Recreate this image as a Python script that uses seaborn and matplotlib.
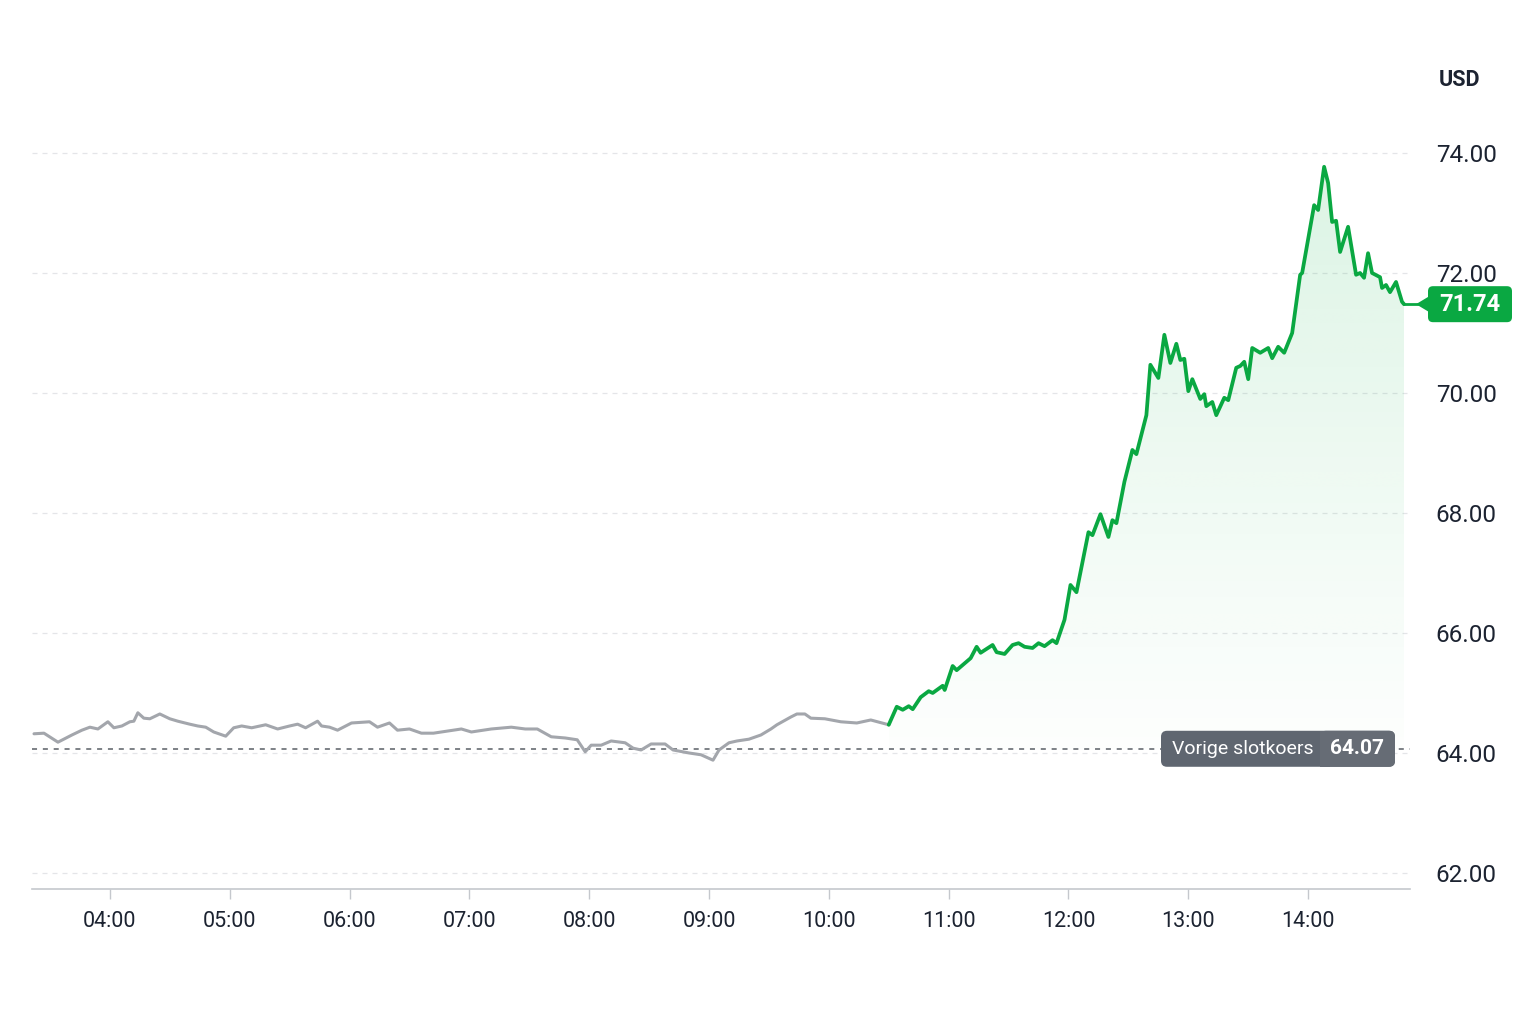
import numpy as np
import pandas as pd
import matplotlib.pyplot as plt
import matplotlib.dates as mdates
from matplotlib.patches import FancyBboxPatch, Polygon
from matplotlib.transforms import IdentityTransform
from matplotlib.colors import to_rgb
import seaborn as sns

# intraday prices
times = ["03:22", "03:27", "03:34", "03:41", "03:46", "03:50", "03:54", "03:59", "04:02", "04:06",
         "04:10", "04:12", "04:14", "04:17", "04:20", "04:25", "04:30", "04:34", "04:40", "04:44",
         "04:48", "04:52", "04:58", "05:02", "05:06", "05:11", "05:18", "05:24", "05:30", "05:34",
         "05:38", "05:44", "05:46", "05:50", "05:54", "06:01", "06:10", "06:14", "06:20", "06:24",
         "06:30", "06:36", "06:42", "06:50", "06:56", "07:01", "07:11", "07:21", "07:28", "07:34",
         "07:41", "07:48", "07:54", "07:58", "08:01", "08:06", "08:11", "08:18", "08:22", "08:26",
         "08:31", "08:38", "08:42", "08:50", "08:56", "09:02", "09:05", "09:10", "09:14", "09:20",
         "09:26", "09:31", "09:34", "09:41", "09:44", "09:48", "09:51", "09:58", "10:06", "10:14",
         "10:21", "10:30",
         "10:34", "10:37", "10:40", "10:42", "10:46", "10:50", "10:52", "10:57", "10:58", "11:02",
         "11:04", "11:11", "11:14", "11:16", "11:22", "11:24", "11:28", "11:32", "11:35", "11:38",
         "11:42", "11:45", "11:48", "11:52", "11:54", "11:58", "12:01", "12:04", "12:10", "12:12",
         "12:16", "12:20", "12:22", "12:24", "12:28", "12:32", "12:34", "12:39", "12:41", "12:45",
         "12:48", "12:51", "12:54", "12:56", "12:58", "13:00", "13:02", "13:06", "13:08", "13:09",
         "13:12", "13:14", "13:18", "13:20", "13:24", "13:26", "13:28", "13:30", "13:32", "13:36",
         "13:40", "13:42", "13:45", "13:48", "13:52", "13:56", "13:57", "14:03", "14:05", "14:08",
         "14:10", "14:12", "14:14", "14:16", "14:20", "14:24", "14:26", "14:28", "14:30", "14:32",
         "14:36", "14:37", "14:39", "14:41", "14:44", "14:47", "14:48"]
prices = [64.32, 64.33, 64.18, 64.30, 64.38, 64.43, 64.40, 64.52, 64.42, 64.45,
          64.52, 64.53, 64.67, 64.58, 64.57, 64.65, 64.57, 64.53, 64.48, 64.45,
          64.43, 64.35, 64.28, 64.42, 64.45, 64.42, 64.47, 64.40, 64.45, 64.48,
          64.42, 64.53, 64.45, 64.43, 64.38, 64.50, 64.52, 64.43, 64.50, 64.38,
          64.40, 64.33, 64.33, 64.37, 64.40, 64.35, 64.40, 64.43, 64.40, 64.40,
          64.27, 64.25, 64.22, 64.02, 64.13, 64.13, 64.20, 64.17, 64.08, 64.05,
          64.15, 64.15, 64.05, 64.00, 63.97, 63.88, 64.05, 64.17, 64.20, 64.23,
          64.30, 64.40, 64.47, 64.60, 64.65, 64.65, 64.58, 64.57, 64.52, 64.50,
          64.55, 64.47,
          64.77, 64.72, 64.78, 64.73, 64.93, 65.03, 65.00, 65.12, 65.05, 65.45,
          65.38, 65.58, 65.77, 65.67, 65.80, 65.68, 65.65, 65.80, 65.83, 65.77,
          65.75, 65.83, 65.78, 65.88, 65.83, 66.22, 66.80, 66.68, 67.68, 67.63,
          67.98, 67.60, 67.88, 67.83, 68.52, 69.05, 68.98, 69.63, 70.47, 70.25,
          70.97, 70.50, 70.82, 70.55, 70.57, 70.03, 70.23, 69.90, 69.98, 69.78,
          69.85, 69.63, 69.92, 69.88, 70.42, 70.45, 70.52, 70.23, 70.75, 70.67,
          70.75, 70.58, 70.77, 70.67, 71.00, 71.97, 72.00, 73.13, 73.05, 73.77,
          73.50, 72.85, 72.87, 72.35, 72.77, 71.97, 72.00, 71.92, 72.33, 72.00,
          71.93, 71.75, 71.80, 71.68, 71.85, 71.52, 71.48]

split_time = "10:30"      # grey before, green after
prev_close = 64.07
last_price = 71.74
y_ticks = [62, 64, 66, 68, 70, 72, 74]
x_ticks = ["04:00", "05:00", "06:00", "07:00", "08:00", "09:00", "10:00",
           "11:00", "12:00", "13:00", "14:00"]

GREEN = "#0aa842"
GREY_LINE = "#a3a6ac"
TEXT = "#1c2331"

sns.set_style("white")
plt.rcParams['font.family'] = ['Roboto', 'DejaVu Sans']

day = "2024-01-02 "
df = pd.DataFrame({"time": pd.to_datetime(day + pd.Series(times)), "price": prices})
split = pd.Timestamp(day + split_time)
grey = df[df.time <= split]
green = df[df.time >= split]

fig = plt.figure(figsize=(15.36, 10.24), dpi=100)
fig.patch.set_facecolor("white")
ax = fig.add_axes([32 / 1536, 1 - 889 / 1024, (1410 - 32) / 1536, (889 - 100) / 1024])

# gradient fill under the green part
xg = mdates.date2num(green.time)
verts = [(xg[0], prev_close)] + list(zip(xg, green.price)) + [(xg[-1], prev_close)]
poly = Polygon(verts, closed=True, fc="none", ec="none")
ax.add_patch(poly)
grad = np.linspace(0, 1, 256)
rgba = np.zeros((256, 1, 4))
rgba[..., :3] = to_rgb("#1db954")
rgba[:, 0, 3] = 0.01 + 0.15 * grad ** 1.1
im = ax.imshow(rgba, extent=[xg[0], xg[-1], prev_close, 74.0], origin="lower",
               aspect="auto", zorder=1, interpolation="bilinear")
im.set_clip_path(poly)

sns.lineplot(data=grey, x="time", y="price", color=GREY_LINE, lw=2.2,
             estimator=None, ax=ax, zorder=3)
sns.lineplot(data=green, x="time", y="price", color=GREEN, lw=2.7,
             estimator=None, ax=ax, zorder=4)

# previous close
ax.axhline(prev_close, color="#5a5f66", lw=1.1, ls=(0, (3.3, 3.8)), zorder=2)

ax.set_xlim(pd.Timestamp(day + "03:21"), pd.Timestamp(day + "14:51"))
ax.set_ylim(61.733, 74.883)

ax.set_yticks(y_ticks)
ax.set_yticklabels([f"{v:.2f}" for v in y_ticks])
ax.yaxis.tick_right()
ax.tick_params(axis="y", length=0, pad=18.5, labelsize=17.5, labelcolor=TEXT)
ax.yaxis.grid(True, color="#e4e5e8", lw=0.9, ls=(0, (4, 4)))
ax.set_axisbelow(True)

ax.set_xticks(pd.to_datetime([day + t for t in x_ticks]))
ax.xaxis.set_major_formatter(mdates.DateFormatter("%H:%M"))
ax.tick_params(axis="x", length=7, width=1, color="#c5c8cd", pad=9,
               labelsize=15.5, labelcolor=TEXT, bottom=True)
ax.set_xlabel("")
ax.set_ylabel("")
for s in ["top", "left", "right"]:
    ax.spines[s].set_visible(False)
ax.spines["bottom"].set_color("#c5c8cd")
ax.spines["bottom"].set_linewidth(1.2)

fig.text(1439 / 1536, 1 - 80 / 1024, "USD", fontsize=15.5, fontweight="bold",
         color=TEXT, va="center", ha="left")

# previous close badge
_, yc = ax.transData.transform((0, prev_close))
badge = FancyBboxPatch((1161, yc - 18), 234, 36, boxstyle="round,pad=0,rounding_size=6",
                       transform=IdentityTransform(), fc="#5f6670", ec="none", zorder=6)
ax.add_patch(badge)
badge_r = FancyBboxPatch((1320, yc - 18), 75, 36, boxstyle="round,pad=0,rounding_size=6",
                         transform=IdentityTransform(), fc="#666c75", ec="none", zorder=6)
ax.add_patch(badge_r)
ax.add_patch(FancyBboxPatch((1320, yc - 18), 10, 36, boxstyle="square,pad=0",
                            transform=IdentityTransform(), fc="#666c75", ec="none", zorder=6))
fig.text(1172 / 1536, yc / 1024, "Vorige slotkoers", fontsize=14, color="white",
         va="center", ha="left", zorder=7)
fig.text(1357 / 1536, yc / 1024, f"{prev_close:.2f}", fontsize=15, color="white",
         fontweight="bold", va="center", ha="center", zorder=7)

# last price tag, placed at the end of the line
xe, ye = ax.transData.transform((mdates.date2num(green.time.iloc[-1]), green.price.iloc[-1]))
tag = FancyBboxPatch((1428, ye - 18), 84, 36, boxstyle="round,pad=0,rounding_size=5",
                     transform=IdentityTransform(), fc=GREEN, ec="none", zorder=6)
fig.add_artist(tag)
fig.add_artist(Polygon([(1416, ye), (1431, ye + 9), (1431, ye - 9)], closed=True,
                       transform=IdentityTransform(), fc=GREEN, ec="none", zorder=6))
fig.add_artist(plt.Line2D([xe, 1418], [ye, ye], transform=IdentityTransform(),
                          color=GREEN, lw=2.0, zorder=5))
fig.text(1470 / 1536, ye / 1024, f"{last_price:.2f}", fontsize=17, color="white",
         fontweight="bold", va="center", ha="center", zorder=7)

fig.savefig("out.png", dpi=100, facecolor="white")
